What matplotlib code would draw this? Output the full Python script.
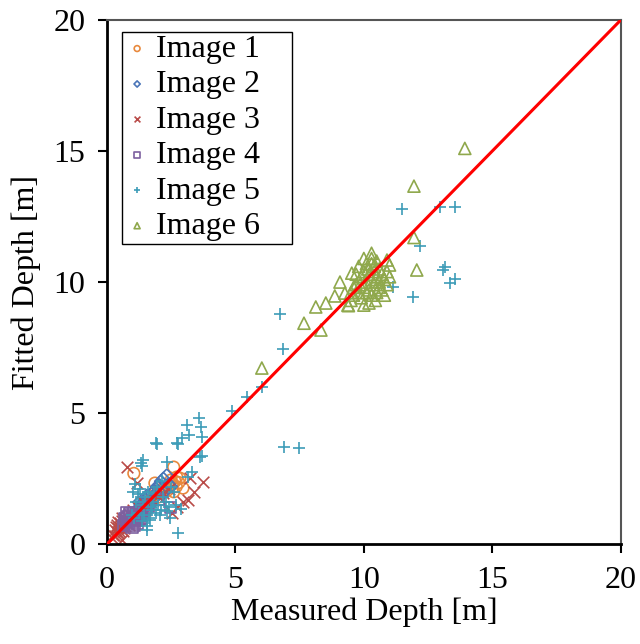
import matplotlib
matplotlib.use("Agg")
import matplotlib.pyplot as plt

plt.rcParams['font.family'] = ['Liberation Serif', 'DejaVu Serif']

# Image 1 - circles
x1 = [1.05, 2.60, 2.84, 2.96, 1.87, 2.72, 2.65, 2.55, 2.45, 2.30, 2.20, 2.10, 1.95, 1.80, 1.70,
      1.60, 1.50, 2.40, 2.50, 2.00, 1.90, 2.25, 2.35, 2.70, 2.60, 1.40, 1.65, 2.15, 2.80, 2.05]
y1 = [2.70, 2.94, 2.52, 2.14, 2.33, 2.56, 2.40, 2.30, 2.20, 2.10, 2.05, 1.95, 1.90, 1.75, 1.70,
      1.60, 1.55, 2.25, 2.45, 1.80, 2.00, 2.15, 2.05, 2.20, 2.00, 1.45, 1.80, 2.10, 2.35, 2.20]

# Image 2 - diamonds
x2 = [2.33, 2.20, 2.10, 1.95, 1.85, 1.75, 1.60, 1.50, 1.40, 1.30, 1.20, 1.10, 1.00, 0.95,
      1.45, 1.55, 1.65, 2.40, 2.50, 2.25, 1.80, 1.70, 1.35, 1.25, 2.05, 2.15, 1.90, 1.15]
y2 = [2.63, 2.50, 2.40, 2.20, 2.05, 1.95, 1.80, 1.70, 1.55, 1.50, 1.35, 1.20, 1.05, 0.95,
      1.40, 1.85, 1.60, 2.30, 2.20, 2.00, 1.70, 1.50, 1.30, 1.60, 2.25, 1.90, 1.95, 1.00]

# Image 3 - crosses
x3 = [0.80, 1.17, 3.74, 3.23, 3.15, 2.96, 2.72, 2.53, 0.58, 0.43, 0.30, 0.35, 0.40, 0.45, 0.50,
      0.55, 0.60, 0.65, 0.70, 0.75, 0.38, 0.48, 0.52, 0.62, 0.68, 0.33, 0.42, 0.57, 0.72, 0.80,
      0.90, 1.00, 1.20, 1.40, 1.60, 1.80, 2.00, 2.20, 1.50, 1.30, 0.85, 0.25, 0.20, 0.63, 2.40, 3.40]
y3 = [2.94, 2.33, 2.37, 2.52, 1.68, 1.60, 1.41, 1.18, 0.15, 0.42, 0.55, 0.65, 0.75, 0.60, 0.80,
      0.70, 0.90, 0.85, 0.95, 0.80, 0.45, 0.50, 0.65, 0.70, 0.60, 0.30, 0.85, 1.00, 0.70, 1.05,
      1.10, 1.30, 1.40, 1.60, 1.50, 1.70, 1.85, 1.95, 1.30, 1.20, 0.75, 0.35, 0.25, 0.50, 2.10, 2.00]

# Image 4 - squares
x4 = [0.70, 0.80, 0.90, 1.00, 1.10, 1.20, 1.30, 0.75, 0.85, 0.95, 1.05, 1.15, 1.25, 1.09,
      0.65, 2.49, 1.40, 1.50, 0.88, 1.02, 1.18, 0.78, 1.35, 0.98, 1.60, 2.00]
y4 = [0.99, 1.05, 1.10, 1.00, 0.90, 1.05, 1.10, 0.85, 0.80, 0.95, 1.20, 1.15, 0.95, 0.73,
      0.70, 1.41, 1.25, 1.35, 1.15, 0.85, 0.80, 1.20, 1.00, 0.65, 1.45, 1.70]

# Image 5 - plus
x5 = [12.96, 13.54, 11.50, 12.18, 13.15, 13.10, 13.35, 13.54, 11.13, 11.90, 6.73, 6.85, 6.03,
      5.45, 4.86, 6.89, 7.47, 3.58, 3.66, 3.19, 3.11, 2.92, 2.72, 1.91, 3.62, 1.40, 1.32, 2.33,
      2.76, 3.30, 3.15, 3.70, 3.70, 1.95, 2.76, 1.36,
      1.00, 1.10, 1.20, 1.30, 1.40, 1.50, 1.60, 1.70, 1.80, 1.90, 2.00, 2.10, 2.20, 2.30, 2.40,
      2.50, 2.60, 1.25, 1.35, 1.45, 1.55, 1.65, 1.75, 1.85, 1.95, 2.05, 2.15, 2.35, 1.15, 0.97,
      1.05, 2.70, 2.90, 2.45, 1.55, 1.67]
y5 = [12.86, 12.86, 12.80, 11.37, 10.57, 10.46, 9.96, 10.10, 9.80, 9.43, 8.78, 7.44, 5.99,
      5.61, 5.08, 3.70, 3.66, 4.81, 4.47, 4.16, 4.54, 4.05, 3.85, 3.85, 3.32, 3.20, 3.09, 3.13,
      0.42, 2.75, 2.56, 4.08, 3.36, 3.82, 3.82, 2.98,
      2.00, 2.30, 1.90, 2.10, 1.50, 1.80, 2.00, 1.40, 1.60, 1.20, 1.50, 1.30, 1.80, 1.60, 1.40,
      2.20, 2.00, 1.20, 0.90, 1.10, 0.70, 1.00, 1.30, 1.90, 2.20, 1.10, 2.40, 1.25, 1.60, 1.10,
      1.00, 1.50, 1.35, 1.00, 0.53, 0.92]

# Image 6 - triangles
x6 = [13.93, 11.95, 11.95, 12.06, 9.07, 8.87, 8.52, 8.13, 7.67, 8.33, 11.00, 10.90, 6.03,
      10.30, 10.30, 10.10, 10.40, 10.50, 10.60, 10.00, 9.90, 10.20, 10.30, 10.40, 10.50, 10.60,
      10.70, 10.80, 10.90, 10.00, 9.80, 9.70, 9.60, 9.50, 9.40, 9.90, 10.10, 10.20, 10.30, 10.50,
      10.70, 10.80, 10.60, 10.40, 10.10, 9.80, 9.70, 10.00, 10.30, 10.20, 9.60, 10.90, 11.00,
      9.50, 10.45, 10.15, 9.85, 9.53, 9.26, 9.38, 10.00]
y6 = [15.10, 13.66, 11.70, 10.46, 10.00, 9.47, 9.20, 9.05, 8.43, 8.17, 10.65, 10.84, 6.72,
      11.10, 10.90, 10.70, 10.60, 10.80, 10.50, 10.40, 10.20, 10.30, 10.10, 9.90, 10.20, 10.00,
      10.30, 10.10, 9.90, 9.80, 9.60, 9.90, 9.50, 9.30, 9.10, 9.40, 9.60, 9.70, 9.50, 9.60,
      9.70, 9.50, 9.80, 10.40, 10.00, 10.60, 10.30, 10.90, 10.70, 9.20, 9.80, 10.40, 10.20,
      9.60, 9.30, 10.50, 9.90, 10.34, 9.58, 9.12, 9.12]

labels = ["Image 1", "Image 2", "Image 3", "Image 4", "Image 5", "Image 6"]
colors = ['#E8893D', '#4A75B8', '#B94B48', '#7D60A0', '#3D9CB8', '#8FA84C']
markers = ['o', 'D', 'x', 's', '+', '^']
sizes = [70, 40, 70, 65, 85, 75]
series = [(x1, y1), (x2, y2), (x3, y3), (x4, y4), (x5, y5), (x6, y6)]

fig = plt.figure(figsize=(6.4, 6.44), dpi=100)
ax = fig.add_axes([0.167, 0.155, 0.803, 0.814])

for (xs, ys), lab, c, m, s in zip(series, labels, colors, markers, sizes):
    if m in ('x', '+'):
        ax.scatter(xs, ys, marker=m, s=s, c=c, linewidths=1.2, label=lab)
    else:
        ax.scatter(xs, ys, marker=m, s=s, facecolors='none', edgecolors=c,
                   linewidths=1.2, label=lab)

ax.plot([0, 20], [0, 20], color='red', linewidth=2.2, zorder=5)

ax.set_xlim(0, 20)
ax.set_ylim(0, 20)
ax.set_xticks([0, 5, 10, 15, 20])
ax.set_yticks([0, 5, 10, 15, 20])
ax.tick_params(direction='out', length=6.5, width=1.5, labelsize=23, pad=9,
               top=False, right=False)
ax.set_xlabel("Measured Depth [m]", fontsize=23, labelpad=2)
ax.set_ylabel("Fitted Depth [m]", fontsize=23, labelpad=9)

for side in ['left', 'bottom']:
    ax.spines[side].set_linewidth(2)
    ax.spines[side].set_color('black')
for side in ['top', 'right']:
    ax.spines[side].set_linewidth(1.5)
    ax.spines[side].set_color('#555555')

# legend box wider than its entries, like the original
leg = ax.legend(loc='upper left', bbox_to_anchor=(0.029, 0.5, 0.331, 0.477),
                mode='expand', fontsize=23,
                markerscale=0.5, fancybox=False, edgecolor='black', framealpha=1,
                labelspacing=0.19, handletextpad=0.2, handlelength=0.8,
                borderpad=0.08, borderaxespad=0)
leg.get_frame().set_linewidth(1.0)

fig.savefig("out.png", dpi=100)
